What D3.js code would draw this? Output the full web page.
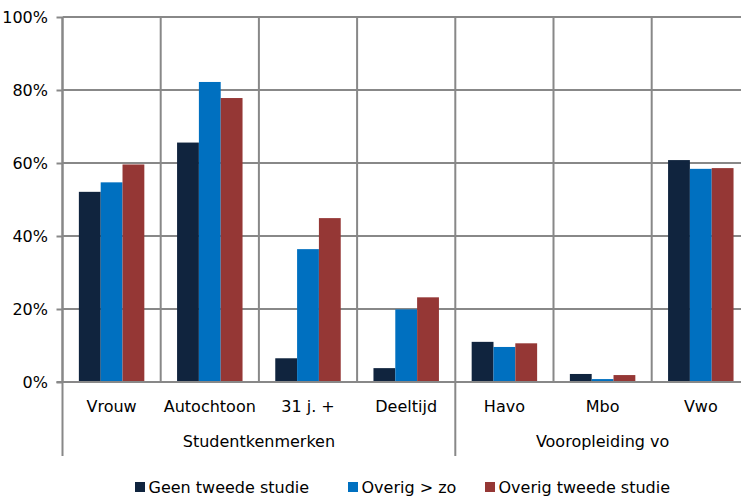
<!DOCTYPE html>
<html><head><meta charset="utf-8">
<script src="https://cdn.jsdelivr.net/npm/d3@7"></script>
<style>body{margin:0;background:#fff}svg{display:block}text{font-family:"DejaVu Sans",sans-serif;fill:#000}</style>
</head><body>
<svg id="c" width="741" height="497"></svg>
<script>
const categories = ["Vrouw","Autochtoon","31 j. +","Deeltijd","Havo","Mbo","Vwo"];
const groups = [{name:"Studentkenmerken", from:0, to:3},{name:"Vooropleiding vo", from:4, to:6}];
const series = ["Geen tweede studie","Overig > zo","Overig tweede studie"];
const geenTweede = [52.1,65.6,6.5,3.8,11.0,2.2,60.8];
const overigZo = [54.7,82.2,36.4,19.9,9.6,0.8,58.4];
const overigTweede = [59.6,77.8,44.9,23.2,10.6,1.9,58.6];
const yTicks = [0,20,40,60,80,100];
const colors = ["#10243E","#0070C0","#953735"];
const values = [geenTweede, overigZo, overigTweede];

const svg = d3.select("#c");
const plotLeft = 62.5, bandW = 98.2, plotTop = 17, plotBottom = 382;
const fs = "16px";
const x = d3.scaleBand().domain(categories).range([plotLeft, plotLeft + bandW*categories.length]).paddingInner(0).paddingOuter(0);
const x1 = d3.scaleBand().domain(series).range([0, x.bandwidth()]).paddingInner(0).paddingOuter(0.75);
const y = d3.scaleLinear().domain([0,100]).range([plotBottom, plotTop]);
const grid = "#888888";

// horizontal gridlines + tick labels
const yAxis = d3.axisLeft(y).tickValues(yTicks).tickFormat(d => d + "%").tickSize(6).tickPadding(8.5);
const gy = svg.append("g").attr("transform", `translate(${plotLeft},0)`).call(yAxis);
gy.select(".domain").remove();
gy.selectAll(".tick line").attr("stroke", grid).attr("stroke-width", 2);
gy.selectAll(".tick text").style("font-size", fs).attr("fill", "#000").attr("font-family", null).attr("dy", "0.36em");
svg.append("g").selectAll("line").data(yTicks).join("line")
  .attr("x1", plotLeft).attr("x2", 741).attr("y1", d => y(d)).attr("y2", d => y(d))
  .attr("stroke", grid).attr("stroke-width", 2);

// vertical gridlines at category boundaries
const bounds = d3.range(categories.length + 1).map(i => plotLeft + i*x.step());
svg.append("g").selectAll("line").data(bounds).join("line")
  .attr("x1", d => d).attr("x2", d => d).attr("y1", plotTop).attr("y2", plotBottom)
  .attr("stroke", grid).attr("stroke-width", 2);

// bars
categories.forEach((c, i) => {
  series.forEach((s, j) => {
    const v = values[j][i];
    svg.append("rect")
      .attr("x", x(c) + x1(s)).attr("width", x1.bandwidth())
      .attr("y", y(v)).attr("height", y(0) - y(v))
      .attr("fill", colors[j]);
  });
});

// redraw 0 line on top
svg.append("line").attr("x1", plotLeft - 6).attr("x2", 741).attr("y1", y(0)).attr("y2", y(0)).attr("stroke", grid).attr("stroke-width", 2);

// axis separators (left axis and group boundaries)
const seps = [plotLeft].concat(groups.map(g => plotLeft + (g.to + 1)*x.step()));
svg.append("g").selectAll("line").data(seps).join("line")
  .attr("x1", d => d).attr("x2", d => d).attr("y1", d => d === plotLeft ? plotTop : plotBottom).attr("y2", 456)
  .attr("stroke", grid).attr("stroke-width", 2);

// category labels
svg.append("g").selectAll("text").data(categories).join("text")
  .attr("x", d => x(d) + x.bandwidth()/2).attr("y", 412)
  .attr("text-anchor", "middle").style("font-size", fs).text(d => d);

// group labels
svg.append("g").selectAll("text").data(groups).join("text")
  .attr("x", g => (x(categories[g.from]) + x(categories[g.to]) + x.bandwidth())/2).attr("y", 447)
  .attr("text-anchor", "middle").style("font-size", fs).text(g => g.name);

// legend
const legX = [135, 348, 485];
const lg = svg.append("g").selectAll("g").data(series).join("g")
  .attr("transform", (d, i) => `translate(${legX[i]},482)`);
lg.append("rect").attr("x", 0).attr("y", 0).attr("width", 10).attr("height", 10).attr("fill", (d, i) => colors[i]);
lg.append("text").attr("x", 13.5).attr("y", 11).style("font-size", fs).text(d => d);
</script>
</body></html>
